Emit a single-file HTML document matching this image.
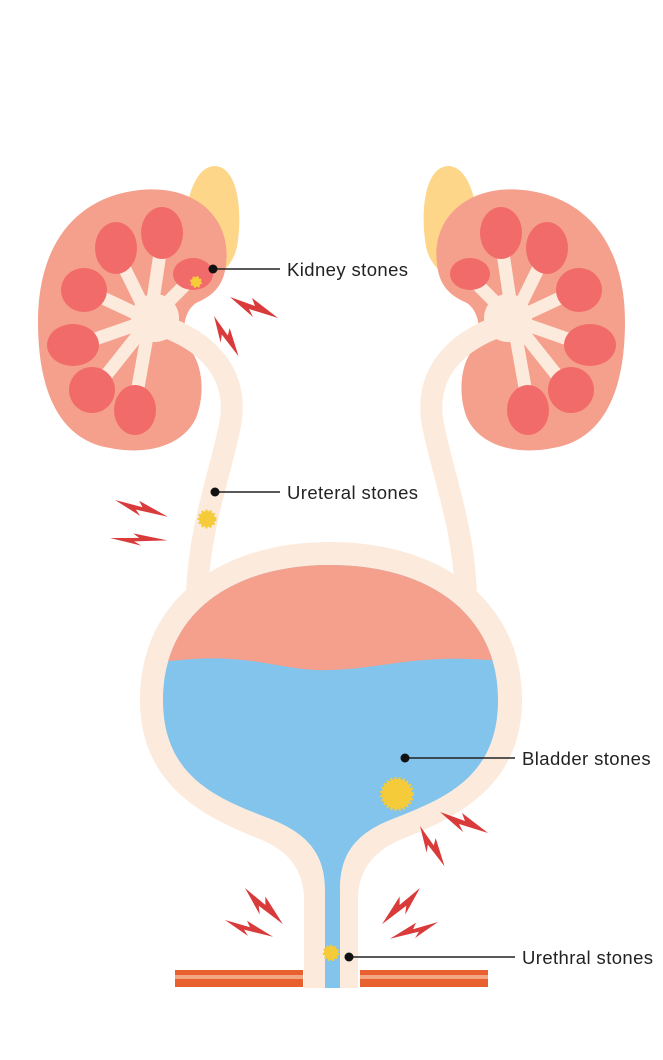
<!DOCTYPE html>
<html><head><meta charset="utf-8"><style>
html,body{margin:0;padding:0;background:#fff}
svg{display:block}
text{font-family:"Liberation Sans",sans-serif;font-size:18.5px;fill:#222;letter-spacing:0.4px}
</style></head><body>
<svg width="663" height="1060" viewBox="0 0 663 1060" xmlns="http://www.w3.org/2000/svg">
<defs>
<polygon id="bolt" points="0,0 25,9 22,1 48,21 19,12 23,20"/>
<g id="kid">
  <path d="M186 272 C180 225 188 168 214 166 C238 166 242 210 238 240 C236 262 222 278 200 280 Z" fill="#FDD68A"/>
  <path d="M140 190 C195 184 232 218 226 264 C224 286 212 296 198 302 C182 310 180 338 192 352 C204 370 204 398 196 418 C184 444 150 456 110 448 C60 440 38 392 38 322 C38 240 80 196 140 190 Z" fill="#F5A08C"/>
  <path d="M160 325 C205 340 240 372 230 425 C220 475 200 525 197 592" fill="none" stroke="#FCEBDD" stroke-width="22"/>
  <g stroke="#FCEBDD" stroke-width="13" stroke-linecap="round">
    <line x1="150" y1="320" x2="162" y2="240"/>
    <line x1="150" y1="320" x2="118" y2="255"/>
    <line x1="150" y1="320" x2="90" y2="292"/>
    <line x1="150" y1="320" x2="78" y2="345"/>
    <line x1="150" y1="320" x2="96" y2="388"/>
    <line x1="150" y1="320" x2="135" y2="404"/>
    <line x1="150" y1="320" x2="190" y2="280"/>
  </g>
  <circle cx="155" cy="318" r="24" fill="#FCEBDD"/>
  <g fill="#F26B6B">
    <ellipse cx="162" cy="233" rx="21" ry="26"/>
    <ellipse cx="116" cy="248" rx="21" ry="26"/>
    <ellipse cx="84" cy="290" rx="23" ry="22"/>
    <ellipse cx="73" cy="345" rx="26" ry="21"/>
    <ellipse cx="92" cy="390" rx="23" ry="23"/>
    <ellipse cx="135" cy="410" rx="21" ry="25"/>
    <ellipse cx="193" cy="274" rx="20" ry="16"/>
  </g>
</g>
<clipPath id="bc"><path d="M330 565 C430 565 498 615 498 700 C498 780 440 800 390 820 C350 836 340 860 340 890 L340 988 L325 988 L325 890 C325 860 313 836 273 820 C222 800 163 780 163 700 C163 615 230 565 330 565 Z"/></clipPath>
</defs>
<use href="#kid"/>
<use href="#kid" transform="translate(663,0) scale(-1,1)"/>
<path d="M330 542 C440 542 522 600 522 700 C522 790 450 820 400 840 C365 855 358 880 358 900 L358 988 L304 988 L304 900 C304 880 297 855 262 840 C212 820 140 790 140 700 C140 600 220 542 330 542 Z" fill="#FCEBDD"/>
<g clip-path="url(#bc)">
  <rect x="150" y="550" width="360" height="450" fill="#82C4EC"/>
  <path d="M150 550 L150 662 L163 662 C250 650 280 672 330 670 C390 668 420 652 510 662 L510 550 Z" fill="#F5A08C"/>
</g>
<g fill="#E8602F">
  <rect x="175" y="970" width="128" height="17"/>
  <rect x="360" y="970" width="128" height="17"/>
</g>
<g fill="#F4A582">
  <rect x="175" y="975" width="128" height="4"/>
  <rect x="360" y="975" width="128" height="4"/>
</g>
<g fill="#F5CB3A" stroke="#F5CB3A" stroke-dasharray="2 2">
  <circle cx="196" cy="282" r="5" stroke-width="2"/>
  <circle cx="207" cy="519" r="8" stroke-width="3"/>
  <circle cx="397" cy="794" r="15" stroke-width="4"/>
  <circle cx="331" cy="953" r="7" stroke-width="2.5"/>
</g>
<g fill="#D93A3A">
  <use href="#bolt" transform="translate(230,297)"/>
  <use href="#bolt" transform="translate(214,316) rotate(35) scale(0.9)"/>
  <use href="#bolt" transform="translate(115,500) scale(1.1,0.8)"/>
  <use href="#bolt" transform="translate(110,538) scale(1.1,0.7) rotate(-20)"/>
  <use href="#bolt" transform="translate(440,812)"/>
  <use href="#bolt" transform="translate(420,826) rotate(35) scale(0.9)"/>
  <use href="#bolt" transform="translate(245,888) rotate(20)"/>
  <use href="#bolt" transform="translate(225,920) scale(1,0.8)"/>
  <use href="#bolt" transform="translate(420,888) scale(-1,1) rotate(20)"/>
  <use href="#bolt" transform="translate(438,922) scale(-1,0.8)"/>
</g>
<g stroke="#222" stroke-width="1.5">
  <line x1="213" y1="269" x2="280" y2="269"/>
  <line x1="215" y1="492" x2="280" y2="492"/>
  <line x1="405" y1="758" x2="515" y2="758"/>
  <line x1="349" y1="957" x2="515" y2="957"/>
</g>
<g fill="#111">
  <circle cx="213" cy="269" r="4.5"/>
  <circle cx="215" cy="492" r="4.5"/>
  <circle cx="405" cy="758" r="4.5"/>
  <circle cx="349" cy="957" r="4.5"/>
</g>
<text x="287" y="276">Kidney stones</text>
<text x="287" y="499">Ureteral stones</text>
<text x="522" y="765">Bladder stones</text>
<text x="522" y="964">Urethral stones</text>
</svg>
</body></html>
